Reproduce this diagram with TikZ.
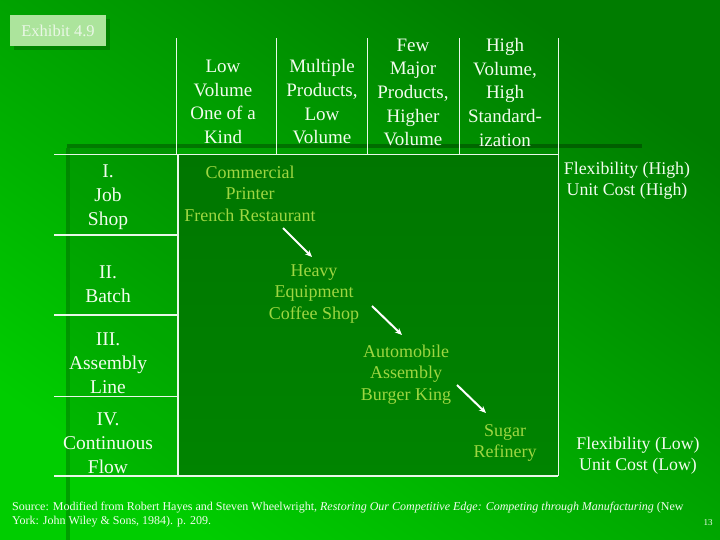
\documentclass[tikz,border=0pt]{standalone}
\usepackage{fontspec}
\setmainfont{Liberation Serif}
\usetikzlibrary{arrows.meta}
\definecolor{bgdark}{RGB}{0,124,0}
\definecolor{bgbright}{RGB}{0,205,0}
\definecolor{inner1}{RGB}{0,118,0}
\definecolor{inner2}{RGB}{0,132,0}
\definecolor{linecol}{RGB}{232,248,232}
\definecolor{txtwhite}{RGB}{242,252,238}
\definecolor{entrycol}{RGB}{158,214,66}
\definecolor{exfill}{RGB}{172,228,156}
\definecolor{extext}{RGB}{234,247,230}
\begin{document}
\begin{tikzpicture}[x=1pt,y=-1pt,
  grid/.style={draw=linecol,line width=1.1pt},
  headtxt/.style={text=txtwhite,align=center,inner sep=0pt,font=\fontsize{19}{23.7}\selectfont},
  rowtxt/.style={text=txtwhite,align=center,inner sep=0pt,font=\fontsize{19.5}{23.8}\selectfont},
  entrytxt/.style={text=entrycol,align=center,inner sep=0pt,font=\fontsize{18}{21.5}\selectfont},
  sidetxt/.style={text=txtwhite,align=center,inner sep=0pt,font=\fontsize{17.8}{21}\selectfont},
  flowarrow/.style={draw=white,line width=2pt,-{Stealth[length=7pt,width=6pt]}}]
\useasboundingbox (0,0) rectangle (720,540);
% background
\shade[shading=axis,top color=bgdark,bottom color=bgbright,shading angle=-35] (0,0) rectangle (720,540);
% shadows of slide shapes
\fill[black,opacity=0.10] (70,148) rectangle (178,476);
\fill[black,opacity=0.28] (67,144) rectangle (642,148);
\fill[black,opacity=0.22] (66,148) rectangle (70,540);
% inner matrix field
\shade[top color=inner1,bottom color=inner2] (178,155) rectangle (558,476);
% exhibit label
\fill[black!60!green,opacity=0.5] (14,19) rectangle (110,50);
\node[fill=exfill,text=extext,minimum width=96pt,minimum height=31pt,inner sep=0pt,
  font=\fontsize{16.5}{18}\selectfont] (exh) at (58,30.5) {Exhibit 4.9};
% grid lines
\draw[grid] (54,154.5) -- (558,154.5);
\draw[grid] (176.5,38.3) -- (176.5,154.5);
\draw[grid] (276.3,38.3) -- (276.3,154.5);
\draw[grid] (367.3,38.3) -- (367.3,154.5);
\draw[grid] (459.7,38.3) -- (459.7,154.5);
\draw[grid] (558.3,38.3) -- (558.3,476);
\draw[grid] (178,154.5) -- (178,476);
\draw[grid] (54,235) -- (178,235);
\draw[grid] (54,315) -- (178,315);
\draw[grid] (54,396.5) -- (178,396.5);
\draw[grid] (54,476) -- (558.3,476);
% column headers
\node[headtxt] (h1) at (223,102) {Low\\Volume\\One of a\\Kind};
\node[headtxt] (h2) at (322,102) {Multiple\\Products,\\Low\\Volume};
\node[headtxt] (h3) at (413,92.5) {Few\\Major\\Products,\\Higher\\Volume};
\node[headtxt] (h4) at (505,92.5) {High\\Volume,\\High\\Standard-\\ization};
% row labels
\node[rowtxt] (r1) at (108,197) {I.\\Job\\Shop};
\node[rowtxt] (r2) at (108,284) {II.\\Batch};
\node[rowtxt] (r3) at (108,363) {III.\\Assembly\\Line};
\node[rowtxt] (r4) at (108,443) {IV.\\Continuous\\Flow};
% entries
\node[entrytxt] (e1) at (250,193.5) {Commercial\\Printer\\French Restaurant};
\node[entrytxt] (e2) at (314,294) {Heavy\\Equipment\\Coffee Shop};
\node[entrytxt] (e3) at (406,374.5) {Automobile\\Assembly\\Burger King};
\node[entrytxt] (e4) at (505,443) {Sugar\\Refinery};
% arrows
\coordinate (a1s) at (283,228); \coordinate (a1e) at (312,257);
\coordinate (a2s) at (372,306); \coordinate (a2e) at (402,335);
\coordinate (a3s) at (457,385); \coordinate (a3e) at (486,413);
\draw[flowarrow] (a1s) -- (a1e);
\draw[flowarrow] (a2s) -- (a2e);
\draw[flowarrow] (a3s) -- (a3e);
% side labels
\node[sidetxt] (hi) at (627,181) {Flexibility (High)\\Unit Cost (High)};
\node[sidetxt] (lo) at (638,456) {Flexibility (Low)\\Unit Cost (Low)};
% source
\node[text=txtwhite,align=left,anchor=north west,inner sep=0pt,
  font=\fontsize{12}{14.5}\selectfont] (src) at (12,501.5)
  {Source: Modified from Robert Hayes and Steven Wheelwright, \textit{Restoring Our Competitive Edge: Competing through Manufacturing} (New\\York: John Wiley \& Sons, 1984). p. 209.};
\node[text=txtwhite,inner sep=0pt,font=\fontsize{9}{10}\selectfont] (pg) at (708,522.5) {13};
\end{tikzpicture}
\end{document}
